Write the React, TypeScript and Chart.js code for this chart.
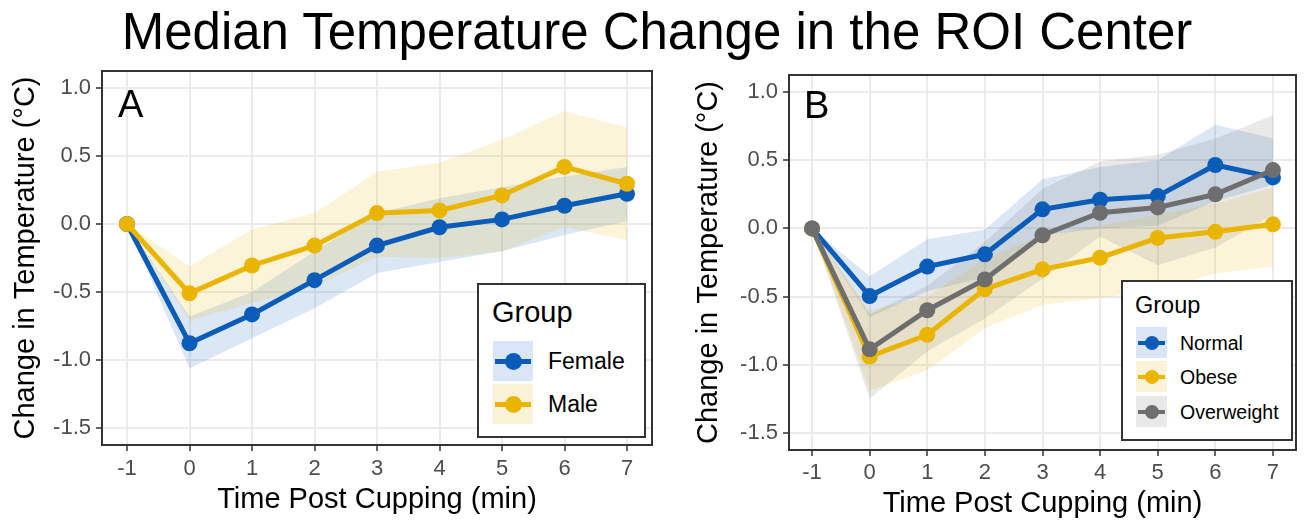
import React, { useEffect, useRef } from "react";
import { Chart, registerables } from "chart.js";

Chart.register(...registerables);

const FONT = "'Liberation Sans', Arial, Helvetica, sans-serif";

// ---------------- data ----------------
const timePoints = [-1, 0, 1, 2, 3, 4, 5, 6, 7];
const xTickValues = [-1, 0, 1, 2, 3, 4, 5, 6, 7];
const yTickValues = [-1.5, -1.0, -0.5, 0.0, 0.5, 1.0];

// Panel A (sex)
const femaleMedian = [0, -0.877, -0.665, -0.413, -0.159, -0.024, 0.034, 0.134, 0.222];
const femaleLower = [0, -1.06, -0.84, -0.62, -0.36, -0.28, -0.2, -0.08, 0.02];
const femaleUpper = [0, -0.68, -0.5, -0.2, 0.08, 0.19, 0.27, 0.35, 0.42];
const maleMedian = [0, -0.51, -0.305, -0.159, 0.08, 0.1, 0.21, 0.42, 0.296];
const maleLower = [0, -0.71, -0.58, -0.46, -0.24, -0.25, -0.2, -0.02, -0.12];
const maleUpper = [0, -0.31, -0.04, 0.08, 0.385, 0.45, 0.62, 0.83, 0.71];

// Panel B (BMI group)
const normalMedian = [0, -0.496, -0.28, -0.19, 0.14, 0.21, 0.237, 0.465, 0.374];
const normalLower = [0, -0.65, -0.46, -0.36, -0.05, 0.0, 0.02, 0.2, 0.32];
const normalUpper = [0, -0.35, -0.08, -0.01, 0.36, 0.45, 0.5, 0.76, 0.66];
const obeseMedian = [0, -0.94, -0.78, -0.445, -0.3, -0.215, -0.07, -0.025, 0.03];
const obeseLower = [0, -1.19, -1.04, -0.73, -0.56, -0.51, -0.45, -0.33, -0.28];
const obeseUpper = [0, -0.6, -0.5, -0.22, -0.05, 0.02, 0.1, 0.18, 0.3];
const overweightMedian = [0, -0.887, -0.6, -0.374, -0.05, 0.115, 0.154, 0.25, 0.428];
const overweightLower = [0, -1.25, -0.9, -0.66, -0.37, -0.06, -0.27, -0.14, 0.1];
const overweightUpper = [0, -0.63, -0.42, -0.1, 0.29, 0.49, 0.54, 0.66, 0.83];

// ---------------- styles ----------------
const BLUE = "#0B5CB8";
const YELLOW = "#EAB500";
const GRAY = "#6E6E6E";
const BLUE_BAND = "rgba(11,92,184,0.15)";
const YELLOW_BAND = "rgba(234,181,0,0.15)";
const GRAY_BAND = "rgba(110,110,110,0.15)";
const BLUE_KEY = "rgb(218,230,245)";
const YELLOW_KEY = "rgb(251,243,216)";
const GRAY_KEY = "rgb(233,233,233)";

type Group = {
  name: string;
  color: string;
  band: string;
  key: string;
  median: number[];
  lower: number[];
  upper: number[];
};

const groupsA: Group[] = [
  { name: "Female", color: BLUE, band: BLUE_BAND, key: BLUE_KEY, median: femaleMedian, lower: femaleLower, upper: femaleUpper },
  { name: "Male", color: YELLOW, band: YELLOW_BAND, key: YELLOW_KEY, median: maleMedian, lower: maleLower, upper: maleUpper },
];

const groupsB: Group[] = [
  { name: "Normal", color: BLUE, band: BLUE_BAND, key: BLUE_KEY, median: normalMedian, lower: normalLower, upper: normalUpper },
  { name: "Obese", color: YELLOW, band: YELLOW_BAND, key: YELLOW_KEY, median: obeseMedian, lower: obeseLower, upper: obeseUpper },
  { name: "Overweight", color: GRAY, band: GRAY_BAND, key: GRAY_KEY, median: overweightMedian, lower: overweightLower, upper: overweightUpper },
];

const toXY = (vals: number[]) => timePoints.map((t, i) => ({ x: t, y: vals[i] }));

function buildDatasets(groups: Group[], lineWidth: number, radius: number) {
  const ds: any[] = [];
  groups.forEach((g, gi) => {
    const lowerIdx = ds.length;
    ds.push({
      label: g.name + " lower",
      data: toXY(g.lower),
      borderWidth: 0,
      borderColor: "rgba(0,0,0,0)",
      pointRadius: 0,
      pointHoverRadius: 0,
      fill: false,
      order: 100 - gi,
    });
    ds.push({
      label: g.name + " upper",
      data: toXY(g.upper),
      borderWidth: 0,
      borderColor: "rgba(0,0,0,0)",
      backgroundColor: g.band,
      pointRadius: 0,
      pointHoverRadius: 0,
      fill: { target: lowerIdx },
      order: 100 - gi,
    });
  });
  groups.forEach((g, gi) => {
    ds.push({
      label: g.name,
      data: toXY(g.median),
      borderColor: g.color,
      backgroundColor: g.color,
      borderWidth: lineWidth,
      pointRadius: radius,
      pointHoverRadius: radius,
      pointBorderWidth: 0,
      pointBackgroundColor: g.color,
      fill: false,
      tension: 0,
      order: groups.length - gi,
    });
  });
  return ds;
}

const framePlugin = {
  id: "frame",
  afterDraw(chart: any) {
    const { ctx, chartArea } = chart;
    const { left, top, right, bottom } = chartArea;
    ctx.save();
    ctx.strokeStyle = "#333333";
    ctx.lineWidth = 2;
    ctx.strokeRect(left, top, right - left, bottom - top);
    ctx.restore();
  },
};

type Geom = {
  width: number;
  height: number;
  canvasLeft: number;
  yAxisWidth: number;
  xAxisHeight: number;
  padTop: number;
  padRight: number;
  yTitlePad: number;
  xTitlePad: number;
  xTickPad: number;
};

function PanelChart({ groups, geom }: { groups: Group[]; geom: Geom }) {
  const ref = useRef<HTMLCanvasElement | null>(null);
  useEffect(() => {
    if (!ref.current) return;
    const chart = new Chart(ref.current, {
      type: "line",
      data: { datasets: buildDatasets(groups, 5, 8) },
      plugins: [framePlugin],
      options: {
        responsive: false,
        maintainAspectRatio: false,
        animation: false,
        layout: { padding: { top: geom.padTop, right: geom.padRight, left: 0, bottom: 0 } },
        plugins: {
          legend: { display: false },
          tooltip: { enabled: false },
          title: { display: false },
        },
        events: [],
        scales: {
          x: {
            type: "linear",
            min: -1.4,
            max: 7.4,
            afterBuildTicks: (s: any) => {
              s.ticks = xTickValues.map((v) => ({ value: v }));
            },
            afterFit: (s: any) => {
              s.height = geom.xAxisHeight;
            },
            border: { display: false },
            grid: {
              color: "#EBEBEB",
              lineWidth: 2,
              tickColor: "#333333",
              tickLength: 6,
              tickWidth: 1.5,
            },
            ticks: {
              color: "#4D4D4D",
              font: { family: FONT, size: 22 },
              padding: geom.xTickPad,
              maxRotation: 0,
              autoSkip: false,
              callback: (v: any) => String(v),
            },
            title: {
              display: true,
              text: "Time Post Cupping (min)",
              color: "#000000",
              font: { family: FONT, size: 29 },
              padding: { top: 0, bottom: geom.xTitlePad },
            },
          },
          y: {
            type: "linear",
            min: -1.625,
            max: 1.125,
            afterBuildTicks: (s: any) => {
              s.ticks = yTickValues.map((v) => ({ value: v }));
            },
            afterFit: (s: any) => {
              s.width = geom.yAxisWidth;
            },
            border: { display: false },
            grid: {
              color: "#EBEBEB",
              lineWidth: 2,
              tickColor: "#333333",
              tickLength: 6,
              tickWidth: 1.5,
            },
            ticks: {
              color: "#4D4D4D",
              font: { family: FONT, size: 22 },
              padding: 5,
              autoSkip: false,
              callback: (v: any) => Number(v).toFixed(1),
            },
            title: {
              display: true,
              text: "Change in Temperature (°C)",
              color: "#000000",
              font: { family: FONT, size: 29 },
              padding: { top: geom.yTitlePad, bottom: 0 },
            },
          },
        },
      } as any,
    });
    return () => chart.destroy();
  }, []);
  return (
    <canvas
      ref={ref}
      width={geom.width}
      height={geom.height}
      style={{ position: "absolute", left: geom.canvasLeft, top: 0, width: geom.width, height: geom.height }}
    />
  );
}

const geomA: Geom = {
  width: 660,
  height: 521,
  canvasLeft: 0,
  yAxisWidth: 102,
  xAxisHeight: 76,
  padTop: 71,
  padRight: 5,
  yTitlePad: 9,
  xTitlePad: 4,
  xTickPad: 5,
};

const geomB: Geom = {
  width: 641,
  height: 521,
  canvasLeft: 665,
  yAxisWidth: 124,
  xAxisHeight: 71,
  padTop: 75,
  padRight: 10,
  yTitlePad: 27,
  xTitlePad: 0,
  xTickPad: 4,
};

type LegendGeom = {
  left: number;
  top: number;
  width: number;
  height: number;
  titleLeft: number;
  titleTop: number;
  titleSize: number;
  keyLeft: number;
  keyTops: number[];
  keySize: number;
  keyLine: number;
  keyDot: number;
  labelLeft: number;
  labelTops: number[];
  labelSize: number;
};

function Legend({ groups, g }: { groups: Group[]; g: LegendGeom }) {
  const abs = (l: number, t: number, extra: React.CSSProperties = {}): React.CSSProperties => ({
    position: "absolute",
    left: l,
    top: t,
    ...extra,
  });
  return (
    <>
      <div
        style={abs(g.left, g.top, {
          width: g.width,
          height: g.height,
          boxSizing: "border-box",
          border: "2px solid #333333",
          background: "#FFFFFF",
        })}
      />
      <div
        style={abs(g.titleLeft, g.titleTop, {
          fontFamily: FONT,
          fontSize: g.titleSize,
          lineHeight: g.titleSize + "px",
          color: "#000",
          whiteSpace: "nowrap",
        })}
      >
        Group
      </div>
      {groups.map((grp, i) => (
        <React.Fragment key={grp.name}>
          <div style={abs(g.keyLeft, g.keyTops[i], { width: g.keySize, height: g.keySize, background: grp.key })}>
            <div
              style={{
                position: "absolute",
                left: 2,
                right: 2,
                top: (g.keySize - g.keyLine) / 2,
                height: g.keyLine,
                background: grp.color,
              }}
            />
            <div
              style={{
                position: "absolute",
                left: (g.keySize - g.keyDot) / 2,
                top: (g.keySize - g.keyDot) / 2,
                width: g.keyDot,
                height: g.keyDot,
                borderRadius: "50%",
                background: grp.color,
              }}
            />
          </div>
          <div
            style={abs(g.labelLeft, g.labelTops[i], {
              fontFamily: FONT,
              fontSize: g.labelSize,
              lineHeight: g.labelSize + "px",
              color: "#000",
              whiteSpace: "nowrap",
            })}
          >
            {grp.name}
          </div>
        </React.Fragment>
      ))}
    </>
  );
}

const legendA: LegendGeom = {
  left: 477,
  top: 283,
  width: 169,
  height: 155,
  titleLeft: 492,
  titleTop: 298,
  titleSize: 29,
  keyLeft: 493,
  keyTops: [341, 384],
  keySize: 40,
  keyLine: 5,
  keyDot: 17,
  labelLeft: 548,
  labelTops: [350, 393],
  labelSize: 23,
};

const legendB: LegendGeom = {
  left: 1121,
  top: 280,
  width: 172,
  height: 161,
  titleLeft: 1135,
  titleTop: 294,
  titleSize: 23.5,
  keyLeft: 1136,
  keyTops: [327, 361, 396],
  keySize: 31,
  keyLine: 4,
  keyDot: 14,
  labelLeft: 1180,
  labelTops: [333.5, 367.5, 402.5],
  labelSize: 19.5,
};

export default function App() {
  return (
    <div
      style={{
        position: "fixed",
        left: 0,
        top: 0,
        width: 1306,
        height: 521,
        background: "#FFFFFF",
        overflow: "hidden",
      }}
    >
      <PanelChart groups={groupsA} geom={geomA} />
      <PanelChart groups={groupsB} geom={geomB} />
      <div
        style={{
          position: "absolute",
          left: 0,
          top: 6,
          width: 1314,
          textAlign: "center",
          fontFamily: FONT,
          fontSize: 51,
          lineHeight: "51px",
          color: "#000",
          whiteSpace: "nowrap",
        }}
      >
        Median Temperature Change in the ROI Center
      </div>
      <div style={{ position: "absolute", left: 118, top: 85, fontFamily: FONT, fontSize: 38, lineHeight: "38px", color: "#000" }}>A</div>
      <div style={{ position: "absolute", left: 804, top: 86, fontFamily: FONT, fontSize: 38, lineHeight: "38px", color: "#000" }}>B</div>
      <Legend groups={groupsA} g={legendA} />
      <Legend groups={groupsB} g={legendB} />
    </div>
  );
}
